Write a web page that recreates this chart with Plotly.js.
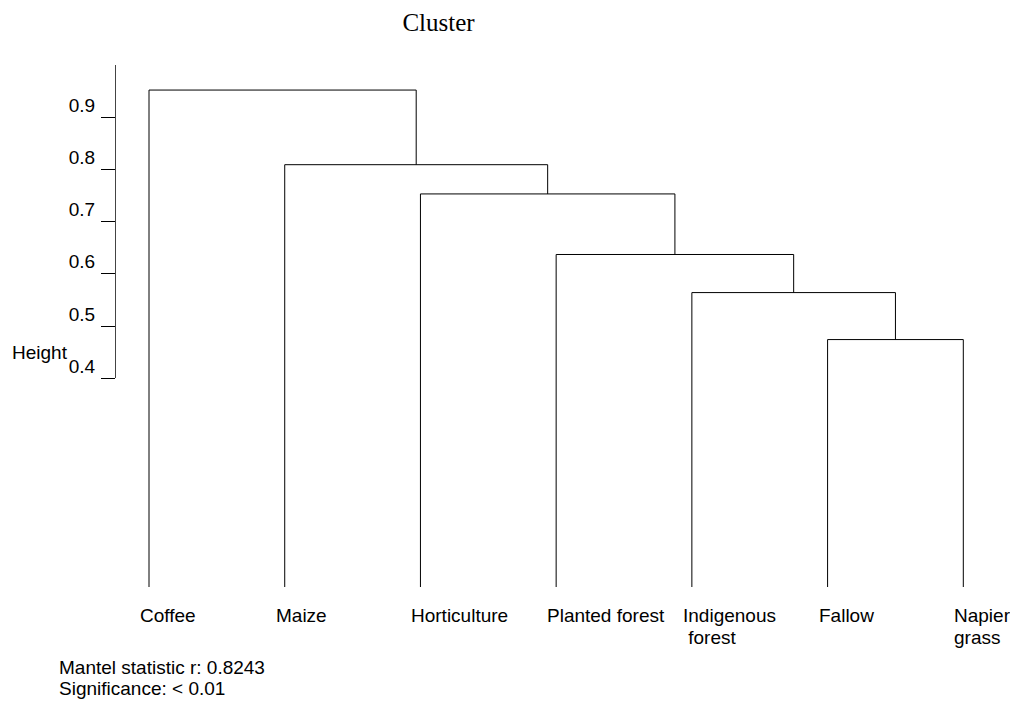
<!DOCTYPE html>
<html>
<head>
<meta charset="utf-8">
<script src="https://cdn.plot.ly/plotly-3.0.1.min.js"></script>
<style>html,body{margin:0;padding:0;background:#fff;}#chart{width:1010px;height:704px;}</style>
</head>
<body>
<div id="chart"></div>
<script>
// Leaf labels in dendrogram order (lines split by "\n")
const leafLabels = ['Coffee', 'Maize', 'Horticulture', 'Planted forest', 'Indigenous\n\u00a0forest', 'Fallow', 'Napier\ngrass'];
// hclust-style merge table: negative = leaf (1-based order), positive = earlier merge step
const mergeA = [-6, -5, -4, -3, -2, -1];
const mergeB = [-7, 1, 2, 3, 4, 5];
const mergeHeights = [0.474, 0.564, 0.637, 0.753, 0.809, 0.952];
const leafBase = 0;
const tickVals = [0.4, 0.5, 0.6, 0.7, 0.8, 0.9];
const tickText = ['0.4', '0.5', '0.6', '0.7', '0.8', '0.9'];
const axisTop = 1.0;
const titleText = 'Cluster';
const yLabel = 'Height';
const noteLines = ['Mantel statistic r: 0.8243', 'Significance: < 0.01'];

// build dendrogram segments
const nodeX = [], nodeY = [];
const xs = [], ys = [];
function pos(id) {
  if (id < 0) return { x: -id, y: leafBase };
  return { x: nodeX[id - 1], y: nodeY[id - 1] };
}
for (let i = 0; i < mergeA.length; i++) {
  const a = pos(mergeA[i]), b = pos(mergeB[i]);
  const h = mergeHeights[i];
  xs.push(a.x, a.x, b.x, b.x, null);
  ys.push(a.y, h, h, b.y, null);
  nodeX.push((a.x + b.x) / 2);
  nodeY.push(h);
}

const font = 'Liberation Sans, Arial, sans-serif';
const annotations = [];
leafLabels.forEach((lab, i) => {
  lab.split('\n').forEach((line, j) => {
    annotations.push({
      x: i + 1, y: leafBase, xref: 'x', yref: 'y',
      text: line, showarrow: false, xanchor: 'left', yanchor: 'middle',
      xshift: -11, yshift: -28 - 22 * j,
      font: { family: font, size: 19, color: '#000' }
    });
  });
});
annotations.push({
  x: -0.12, xref: 'paper', y: 0.449, yref: 'y', text: yLabel, showarrow: false,
  xanchor: 'left', yanchor: 'middle', font: { family: font, size: 19, color: '#000' }
});
noteLines.forEach((t, j) => {
  annotations.push({
    x: -0.067, xref: 'paper', y: -0.1533 - 0.0421 * j, yref: 'paper', text: t, showarrow: false,
    xanchor: 'left', yanchor: 'middle', font: { family: font, size: 19, color: '#000' }
  });
});

const data = [
  { x: [1], y: [tickVals[0]], xaxis: 'x', yaxis: 'y2', mode: 'markers', type: 'scatter',
    marker: { opacity: 0 }, hoverinfo: 'skip', showlegend: false },
  { x: xs, y: ys, xaxis: 'x', yaxis: 'y', mode: 'lines', type: 'scatter',
    line: { color: '#000', width: 1 }, hoverinfo: 'skip', showlegend: false, cliponaxis: false }
];

const layout = {
  width: 1010, height: 704,
  margin: { l: 116, r: 10, t: 65, b: 117, pad: 0 },
  paper_bgcolor: '#fff', plot_bgcolor: 'rgba(0,0,0,0)',
  showlegend: false,
  title: { text: titleText, x: 0.4342, xref: 'container', xanchor: 'center',
    y: 0.969, yref: 'container', yanchor: 'middle',
    font: { family: 'Liberation Serif, Times New Roman, serif', size: 25, color: '#000' } },
  xaxis: { range: [0.7568, 7.2704], visible: false, fixedrange: true },
  yaxis: { range: [0, 1], domain: [0, 1], visible: false, fixedrange: true },
  yaxis2: { range: [tickVals[0], axisTop], domain: [tickVals[0], axisTop], anchor: 'x',
    showline: true, linecolor: '#444', linewidth: 1,
    showgrid: false, zeroline: false,
    ticks: 'outside', ticklen: 14, tickwidth: 1, tickcolor: '#000',
    tickvals: tickVals, ticktext: tickText, ticklabelshift: -12, ticklabelstandoff: 2,
    tickfont: { family: font, size: 19, color: '#000' }, fixedrange: true },
  annotations: annotations
};

Plotly.newPlot('chart', data, layout, { displayModeBar: false, staticPlot: true });
</script>
</body>
</html>
